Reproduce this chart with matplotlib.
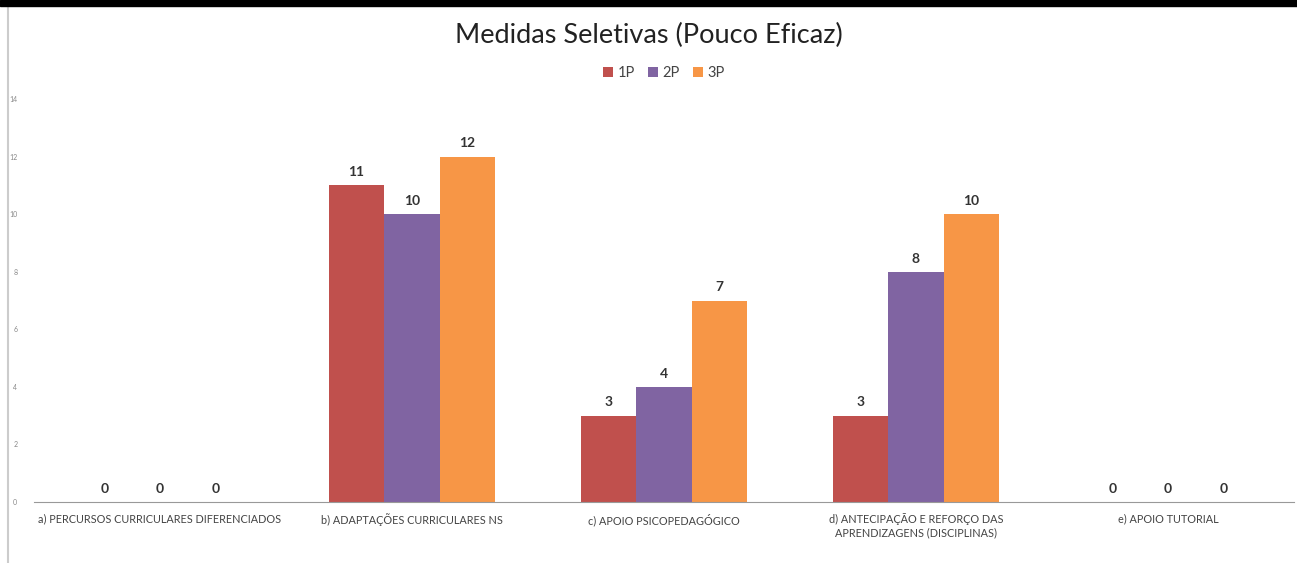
import matplotlib.pyplot as plt
import numpy as np
from matplotlib.patches import Rectangle
from matplotlib.lines import Line2D

plt.rcParams['font.family'] = ['Lato', 'DejaVu Sans']

# dados do gráfico
categorias = ["a) PERCURSOS CURRICULARES DIFERENCIADOS",
              "b) ADAPTAÇÕES CURRICULARES NS",
              "c) APOIO PSICOPEDAGÓGICO",
              "d) ANTECIPAÇÃO E REFORÇO DAS\nAPRENDIZAGENS (DISCIPLINAS)",
              "e) APOIO TUTORIAL"]
series = ["1P", "2P", "3P"]
valores_1p = [0, 11, 3, 3, 0]
valores_2p = [0, 10, 4, 8, 0]
valores_3p = [0, 12, 7, 10, 0]
cores = ["#C0504D", "#8064A2", "#F79646"]

fig = plt.figure(figsize=(12.97, 5.63), dpi=100)
ax = fig.add_axes([34/1297, 1 - 502/563, 1260/1297, 403/563])

x = np.arange(len(categorias))
largura = 0.22
for i, (nome, vals) in enumerate(zip(series, [valores_1p, valores_2p, valores_3p])):
    barras = ax.bar(x + (i - 1) * largura, vals, largura, color=cores[i], label=nome)
    for b, v in zip(barras, vals):
        ax.text(b.get_x() + b.get_width() / 2, v + 0.25, str(v), ha='center', va='bottom',
                fontsize=10, fontweight='bold', color='#333333')

ax.set_xlim(-0.5, len(categorias) - 0.5)
ax.set_ylim(0, 14)
ax.set_yticks(range(0, 15, 2))
ax.tick_params(axis='y', length=0, labelsize=5, colors='#888888', pad=12)
ax.set_xticks(x)
ax.set_xticklabels(categorias, fontsize=7.8, color='#444444')
ax.tick_params(axis='x', length=0, pad=8)
for s in ['top', 'right', 'left']:
    ax.spines[s].set_visible(False)
ax.spines['bottom'].set_color('#999999')

fig.text(0.5, 1 - 35/563, "Medidas Seletivas (Pouco Eficaz)", ha='center', va='center',
         fontsize=19.5, color='#222222')
ax.legend(loc='center', bbox_to_anchor=(0.5, 1 + (99 - 73) / 403), ncol=3, frameon=False,
          fontsize=10.5, handlelength=0.7, handleheight=0.7, handletextpad=0.3,
          columnspacing=0.9, labelcolor='#444444')

# moldura: faixa preta no topo e linha cinzenta à esquerda
fig.patches.append(Rectangle((0, 1 - 6/563), 1, 6/563, transform=fig.transFigure,
                             color='black', zorder=10))
fig.lines.append(Line2D([8/1297, 8/1297], [0, 1 - 8/563], transform=fig.transFigure,
                        color='#cccccc', lw=1.5))

fig.savefig("out.png", dpi=100)
